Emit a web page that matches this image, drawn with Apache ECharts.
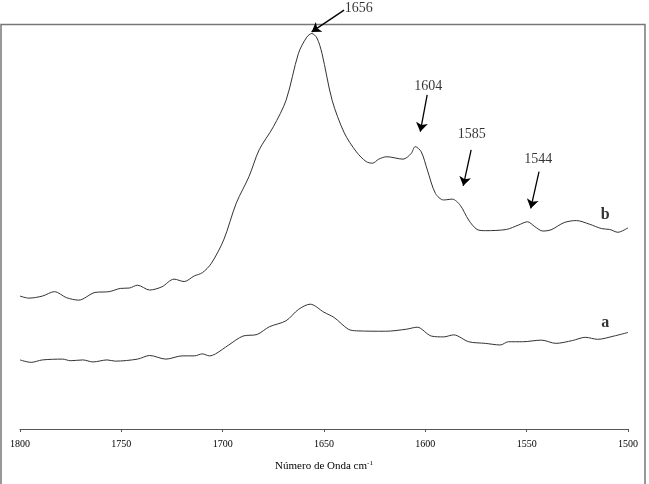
<!DOCTYPE html>
<html>
<head>
<meta charset="utf-8">
<script src="https://cdn.jsdelivr.net/npm/echarts@6/dist/echarts.min.js"></script>
<style>html,body{margin:0;padding:0;background:#fff}#c{width:649px;height:484px}</style>
</head>
<body>
<div id="c"></div>
<script>
// Spectrum b (wavenumber, cm-1) and relative absorbance (arbitrary units)
const waveB = [1800,1795.6,1789,1783,1777,1771,1763,1756,1750.5,1746,1742,1736,1730,1724,1719,1714,1710,1705.6,1699.5,1693.3,1687,1682,1675,1668.7,1662.6,1658.5,1656,1653.5,1651,1646,1640,1634,1629.2,1626,1623,1619,1611,1607,1605,1602,1599,1595,1591,1586.7,1582.8,1578.6,1574.5,1570.4,1560,1554,1549.6,1546,1542,1538,1531.5,1525.5,1519,1513,1509,1505,1500];
const absB = [32.9,32.4,32.9,34.0,32.5,31.9,33.8,34.0,34.8,34.9,35.6,34.4,35.2,37.1,36.5,37.9,38.7,41.0,46.8,55.9,62.5,69.1,74.8,81.4,93.0,97.0,97.9,96.8,93.0,81.4,73.3,68.6,66.2,65.8,66.8,67.4,66.8,68.2,69.9,68.6,64.1,58.3,56.7,56.9,55.4,51.7,49.4,49.1,49.4,50.5,51.3,50.1,49.0,49.3,51.1,51.6,50.7,49.6,49.4,48.7,49.8];
// Spectrum a
const waveA = [1800,1794.5,1789,1779,1775,1769,1764,1757,1753,1742,1736,1728,1720,1714,1710,1706.5,1703.5,1697,1690,1683,1677,1668.7,1662.6,1656.8,1650,1645,1638,1634,1619.6,1609.4,1604,1597,1591,1586,1578.6,1570.4,1563,1559,1552,1542.7,1535.6,1527.4,1521,1515,1507,1500];
const absA = [17.1,16.5,17.1,17.3,16.9,17.1,16.6,17.1,16.8,17.3,18.2,17.3,18.1,18.1,18.6,18.1,18.6,20.8,23.0,23.4,25.3,26.8,29.6,30.9,28.9,27.6,24.7,24.3,24.2,24.7,25.2,23.0,22.8,23.3,21.6,21.2,20.8,21.6,21.6,22.0,21.2,21.9,22.7,22.2,23.0,23.9];
// Peak annotations: label, label position, arrow start, arrow end (data coords)
const peakLabels = ['1656','1604','1585','1544'];
const peakLabelPos = [[1632.9,104.1],[1598.6,84.9],[1577.1,73.0],[1544.3,66.8]];
const arrowStart = [[1640.1,103.7],[1599.1,82.7],[1577.4,69.1],[1543.9,63.7]];
const arrowEnd = [[1656.1,98.3],[1602.5,73.6],[1581.3,60.2],[1548.0,54.6]];
// Curve labels
const curveNames = ['b','a'];
const curveLabelPos = [[1511.2,53.0],[1511.2,26.2]];

const serif = 'Liberation Serif';
const chart = echarts.init(document.getElementById('c'), null, {renderer:'canvas'});
chart.setOption({
  animation:false,
  backgroundColor:'#fff',
  grid:{left:20,right:21,top:0,bottom:55},
  xAxis:{
    type:'value', inverse:true, min:1500, max:1800, interval:50,
    name:'{n|Número de Onda cm}{s|-1}', nameLocation:'middle', nameGap:31,
    nameTextStyle:{rich:{
      n:{fontFamily:serif,fontSize:11,color:'#000',lineHeight:13},
      s:{fontFamily:serif,fontSize:7,color:'#000',verticalAlign:'top',lineHeight:13,padding:[0,0,6,0]}
    }},
    axisLine:{show:true,lineStyle:{color:'#555',width:1}},
    axisTick:{show:true,inside:false,length:3,lineStyle:{color:'#555'}},
    axisLabel:{fontFamily:serif,fontSize:10,color:'#000',margin:10,formatter:v=>String(v)},
    splitLine:{show:false}
  },
  yAxis:{type:'value',min:0,max:106.2,show:false},
  graphic:[{type:'rect',shape:{x:1,y:24.5,width:644,height:480},style:{fill:'none',stroke:'#777',lineWidth:1.5},silent:true}],
  series:[
    {type:'line',data:waveB.map((w,i)=>[w,absB[i]]),showSymbol:false,smooth:0.3,lineStyle:{color:'#333',width:1},silent:true},
    {type:'line',data:waveA.map((w,i)=>[w,absA[i]]),showSymbol:false,smooth:0.3,lineStyle:{color:'#333',width:1},silent:true},
    {type:'scatter',clip:false,symbolSize:0,silent:true,
      data:peakLabels.map((t,i)=>({value:peakLabelPos[i],name:t})),
      label:{show:true,position:'inside',formatter:'{b}',fontFamily:serif,fontSize:14,color:'#000'},
      markLine:{silent:true,symbol:['none','arrow'],symbolSize:9,
        lineStyle:{color:'#000',width:1.3,type:'solid'},label:{show:false},
        data:arrowStart.map((s,i)=>[{coord:s},{coord:arrowEnd[i]}])}
    },
    {type:'scatter',clip:false,symbolSize:0,silent:true,
      data:curveNames.map((t,i)=>({value:curveLabelPos[i],name:t})),
      label:{show:true,position:'inside',formatter:'{b}',fontFamily:serif,fontSize:16,fontWeight:'bold',color:'#000'}
    }
  ]
});
</script>
</body>
</html>
